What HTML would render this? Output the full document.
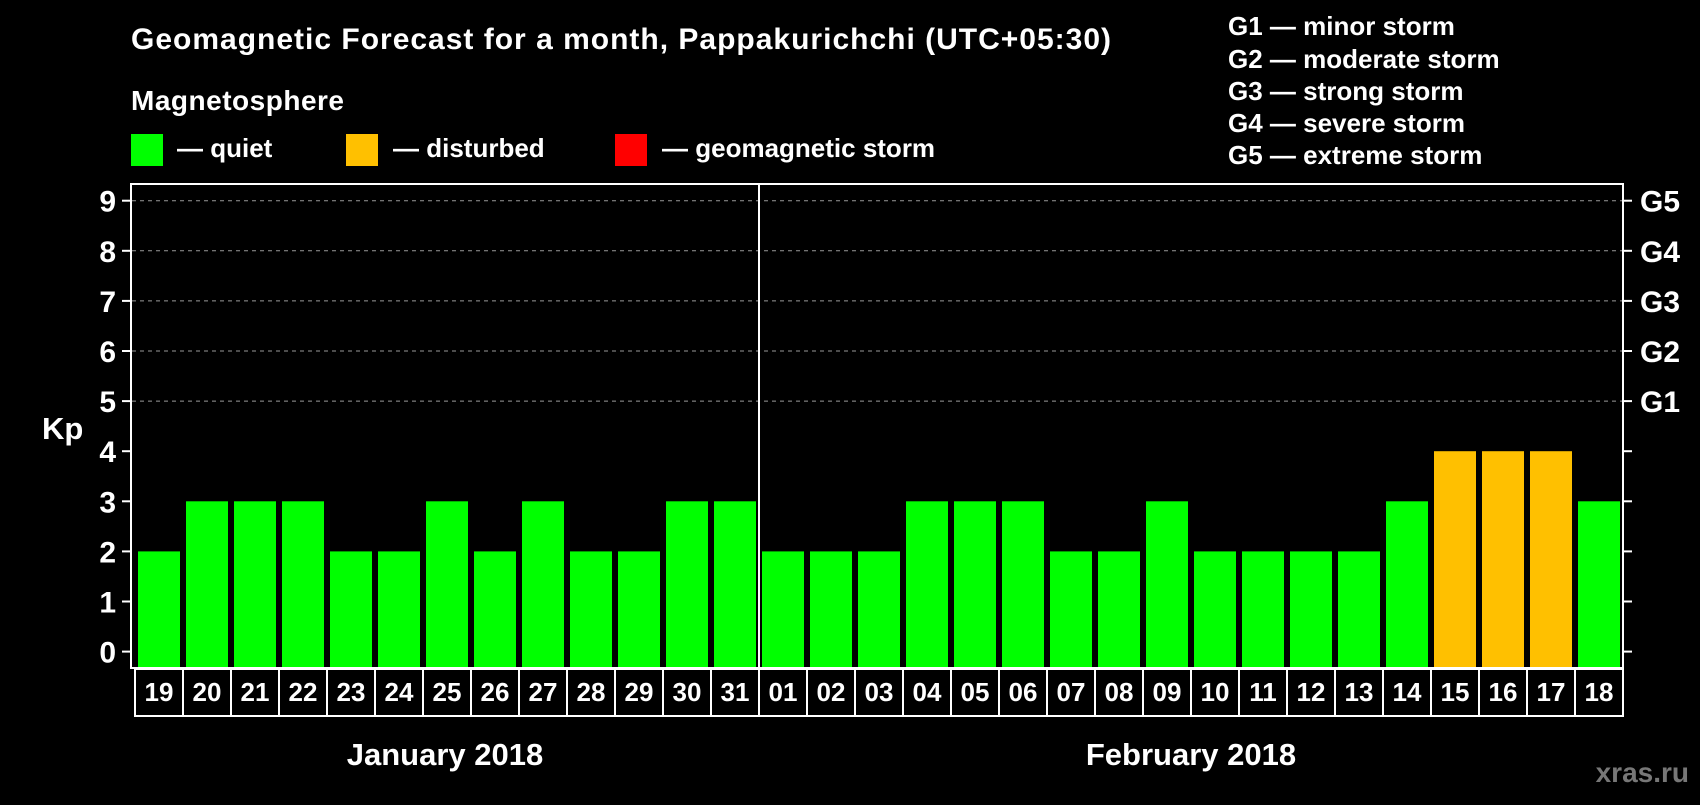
<!DOCTYPE html>
<html><head><meta charset="utf-8"><style>
body{margin:0;background:#000;}
svg text{font-family:"Liberation Sans",Arial,sans-serif;font-weight:bold;fill:#fff;}
</style></head><body>
<svg width="1700" height="800" xmlns="http://www.w3.org/2000/svg">
<rect width="1700" height="800" fill="#000"/>
<text x="131" y="49" font-size="30" textLength="980">Geomagnetic Forecast for a month, Pappakurichchi (UTC+05:30)</text>
<text x="131" y="110" font-size="28" textLength="213">Magnetosphere</text>
<g>
<rect x="131" y="134" width="32" height="32" fill="#00ff00"/>
<text x="177" y="157" font-size="26">— quiet</text>
<rect x="346" y="134" width="32" height="32" fill="#ffc000"/>
<text x="393" y="157" font-size="26">— disturbed</text>
<rect x="615" y="134" width="32" height="32" fill="#ff0000"/>
<text x="662" y="157" font-size="26">— geomagnetic storm</text>
</g>
<g font-size="26">
<text x="1228" y="35">G1 — minor storm</text>
<text x="1228" y="68">G2 — moderate storm</text>
<text x="1228" y="100">G3 — strong storm</text>
<text x="1228" y="132">G4 — severe storm</text>
<text x="1228" y="164">G5 — extreme storm</text>
</g>
<text x="42" y="439" font-size="31">Kp</text>
<g id="grid"></g>
<g id="bars"></g>
<rect x="131" y="184" width="1492" height="484" fill="none" stroke="#fff" stroke-width="2"/>
<line x1="759" y1="184" x2="759" y2="668" stroke="#fff" stroke-width="2"/>
<g id="axes"></g>
<text x="445" y="765" font-size="31" text-anchor="middle">January 2018</text>
<text x="1191" y="765" font-size="31" text-anchor="middle">February 2018</text>
<text x="1689" y="782" font-size="28" text-anchor="end" style="fill:#777">xras.ru</text>
</svg>
<script>
const days=["19","20","21","22","23","24","25","26","27","28","29","30","31","01","02","03","04","05","06","07","08","09","10","11","12","13","14","15","16","17","18"];
const kpValues=[2,3,3,3,2,2,3,2,3,2,2,3,3,2,2,2,3,3,3,2,2,3,2,2,2,2,3,4,4,4,3];
const yTicks=[0,1,2,3,4,5,6,7,8,9];
const gLabels=["","","","","","G1","G2","G3","G4","G5"];
const NS="http://www.w3.org/2000/svg";
const y=v=>651.6-v*50.1;
const slotX=i=>135+i*48;
function mk(tag,attrs,parent,text){const e=document.createElementNS(NS,tag);for(const k in attrs)e.setAttribute(k,attrs[k]);if(text!==undefined)e.textContent=text;parent.appendChild(e);return e;}
const grid=document.getElementById('grid'),bars=document.getElementById('bars'),axes=document.getElementById('axes');
yTicks.forEach((t,i)=>{
  if(t>=5){const l=mk('line',{x1:132,x2:1622,y1:y(t),y2:y(t),stroke:'#999','stroke-dasharray':'4,4','stroke-width':1},grid);
  
  }
  const tl=mk('line',{x1:122,x2:131,y1:y(t),y2:y(t),stroke:'#fff','stroke-width':2},axes);
  
  
  const tr=mk('line',{x1:1623,x2:1632,y1:y(t),y2:y(t),stroke:'#fff','stroke-width':2},axes);
  
  
  const tx=mk('text',{x:116,y:y(t)+11,'font-size':30,'text-anchor':'end'},axes,String(t));
  
  
  if(gLabels[i]){const g=mk('text',{x:1640,y:y(t)+11,'font-size':30},axes,gLabels[i]);
  
  }
});
days.forEach((d,i)=>{
  const v=kpValues[i];
  const col=v>=5?'#ff0000':(v>=4?'#ffc000':'#00ff00');
  const b=mk('rect',{x:slotX(i)+3,y:y(v),width:42,height:667-y(v),fill:col},bars);
  
  
  const c=mk('rect',{x:slotX(i),y:669,width:48,height:47,fill:'none',stroke:'#fff','stroke-width':2},axes);
  
  
  const t=mk('text',{x:slotX(i)+24,y:701,'font-size':26,'text-anchor':'middle'},axes,d);
  
  
});
</script>
</body></html>
